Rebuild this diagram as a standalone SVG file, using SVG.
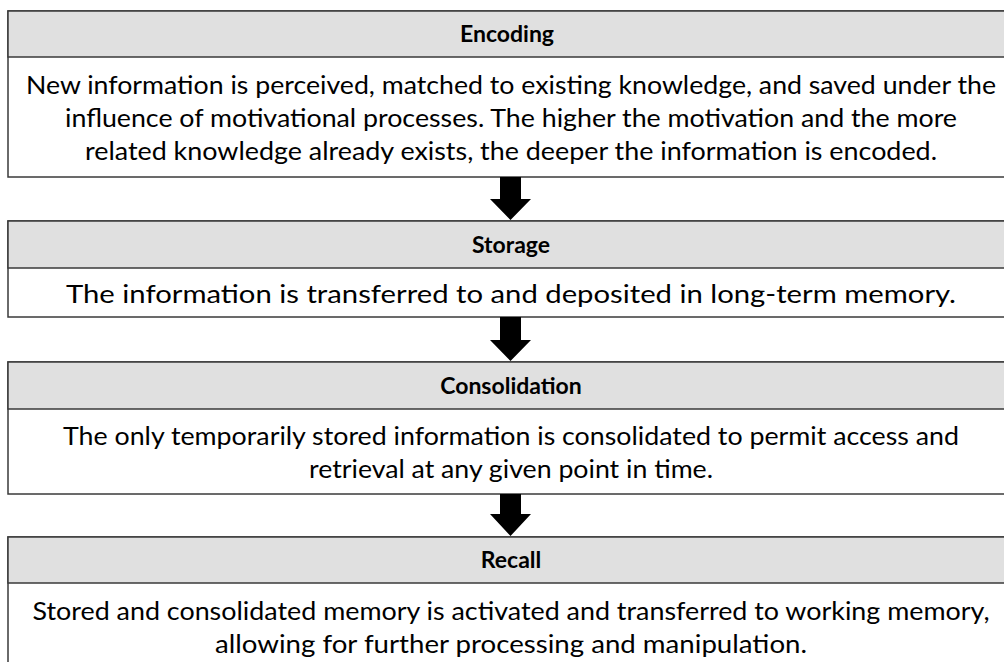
<svg xmlns="http://www.w3.org/2000/svg" width="1004" height="662" viewBox="0 0 1004 662">
<style>
.box{fill:#fff;stroke:#3a3a3a;stroke-width:1.5}
.hdr{fill:#e0e0e0;stroke:#3a3a3a;stroke-width:1.5}
.t{font-family:Lato,"Open Sans",sans-serif;font-size:25px;fill:#000;text-anchor:middle}
.h{font-family:Lato,"Open Sans",sans-serif;font-size:23px;font-weight:bold;fill:#000;text-anchor:middle}
.arr{fill:#000}
</style>
<rect width="1004" height="662" fill="#fff"/>
<g id="encoding">
<rect class="box" x="8" y="11" width="1010" height="166"/>
<rect class="hdr" x="8" y="11" width="1010" height="46"/>
<text class="h" x="507" y="42">Encoding</text>
<text class="t" x="511" y="94" textLength="970" lengthAdjust="spacingAndGlyphs">New information is perceived, matched to existing knowledge, and saved under the</text>
<text class="t" x="511" y="127" textLength="892" lengthAdjust="spacingAndGlyphs">influence of motivational processes. The higher the motivation and the more</text>
<text class="t" x="511" y="160" textLength="852" lengthAdjust="spacingAndGlyphs">related knowledge already exists, the deeper the information is encoded.</text>
</g>
<g id="storage">
<rect class="box" x="8" y="221" width="1010" height="96"/>
<rect class="hdr" x="8" y="221" width="1010" height="47"/>
<text class="h" x="511" y="253">Storage</text>
<text class="t" x="511" y="303" textLength="890" lengthAdjust="spacingAndGlyphs">The information is transferred to and deposited in long-term memory.</text>
</g>
<g id="consolidation">
<rect class="box" x="8" y="362" width="1010" height="132"/>
<rect class="hdr" x="8" y="362" width="1010" height="47"/>
<text class="h" x="511" y="394">Consolidation</text>
<text class="t" x="511" y="445" textLength="896" lengthAdjust="spacingAndGlyphs">The only temporarily stored information is consolidated to permit access and</text>
<text class="t" x="511" y="478" textLength="404" lengthAdjust="spacingAndGlyphs">retrieval at any given point in time.</text>
</g>
<g id="recall">
<rect class="box" x="8" y="537" width="1010" height="160"/>
<rect class="hdr" x="8" y="537" width="1010" height="46"/>
<text class="h" x="511" y="568">Recall</text>
<text class="t" x="511" y="620" textLength="957" lengthAdjust="spacingAndGlyphs">Stored and consolidated memory is activated and transferred to working memory,</text>
<text class="t" x="511" y="653" textLength="592" lengthAdjust="spacingAndGlyphs">allowing for further processing and manipulation.</text>
</g>
<g id="connectors">
<polygon class="arr" points="500,177 521,177 521,199 531,199 510.5,220 490,199 500,199"/>
<polygon class="arr" points="500,317 521,317 521,340 531,340 510.5,361 490,340 500,340"/>
<polygon class="arr" points="500,494 521,494 521,514 531,514 510.5,536 490,514 500,514"/>
</g>
</svg>
